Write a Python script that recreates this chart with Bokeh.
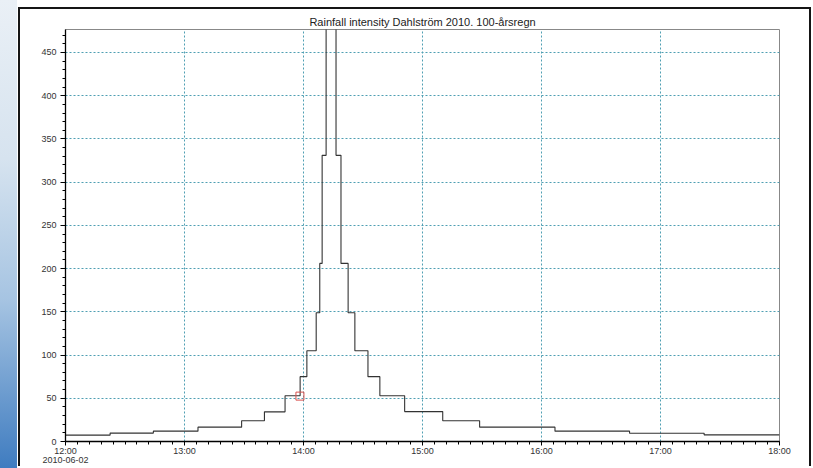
import numpy as np
import pandas as pd
from bokeh.plotting import figure
from bokeh.layouts import row
from bokeh.models import SingleIntervalTicker, DatetimeTickFormatter, Range1d, Div
from bokeh.embed import file_html
from bokeh.resources import INLINE

# ---------------- data ----------------
title_text = "Rainfall intensity Dahlström 2010. 100-årsregn"
date_text = "2010-06-02"
start_time = "2010-06-02 12:00"
end_time = "2010-06-02 18:00"

# start of each block, minutes after 12:00
step_start_min = [0, 22.5, 44.3, 66.8, 88.8, 100.3, 110.7, 118.3, 121.7, 126.4,
                  128.2, 129.4, 131.4, 136.4, 138.9, 142.5, 145.9, 152.5, 158.5,
                  171.0, 190.2, 208.8, 246.8, 284.4, 322.0]
intensity = [7.4, 9.7, 12.0, 16.6, 24.0, 34.3, 53.0, 75.0, 105.0, 149.0,
             206.0, 331.0, 560.0, 331.0, 206.0, 149.0, 105.0, 75.0, 53.0,
             34.6, 24.0, 16.6, 12.0, 9.5, 7.7]
marker_min = [118.2]
marker_val = [52.5]
y_max = 476.6

# ---------------- build ----------------
t0 = pd.Timestamp(start_time)
t1 = pd.Timestamp(end_time)
x_edges = list(t0 + pd.to_timedelta(step_start_min, unit="m")) + [t1]
y_edges = list(intensity) + [intensity[-1]]
mx = list(t0 + pd.to_timedelta(marker_min, unit="m"))
t0_ms = int(t0.value // 1_000_000)

FONT = "Liberation Sans"
H = 468

# decorative gradient strip on the left
strip = Div(text="", width=17, height=H, margin=(0, 1, 0, 0),
            styles={"background": "linear-gradient(to bottom, #eaf0f6 0%, "
                                  "#d6e3ef 34%, #a6c4e2 64%, #3f7cc0 100%)"})

p = figure(width=793, height=H - 9, x_axis_type="datetime",
           x_range=Range1d(t0, t1), y_range=Range1d(0, y_max),
           toolbar_location=None, output_backend="svg",
           min_border_left=45, min_border_right=34, min_border_top=20,
           min_border_bottom=26,
           styles={"margin-top": "7px",
                   "border-left": "2px solid #151515",
                   "border-top": "2px solid #151515",
                   "border-right": "2px solid #151515"})

p.title.text = title_text
p.title.align = "center"
p.title.text_font = FONT
p.title.text_font_size = "11px"
p.title.text_font_style = "normal"
p.title.text_color = "#222222"
p.title.standoff = 3

p.xaxis.ticker = SingleIntervalTicker(interval=3600 * 1000, num_minor_ticks=10)
p.xaxis.formatter = DatetimeTickFormatter(hours="%H:%M", hourmin="%H:%M",
                                          minutes="%H:%M", days="%H:%M")
p.xaxis.major_label_overrides = {t0_ms: "12:00\n" + date_text}
p.yaxis.ticker = SingleIntervalTicker(interval=50, num_minor_ticks=5)

for ax in (p.xaxis, p.yaxis):
    ax.axis_line_color = "#000000"
    ax.axis_line_width = 1.3
    ax.major_tick_line_color = "#000000"
    ax.minor_tick_line_color = "#000000"
    ax.major_tick_in = 0
    ax.minor_tick_in = 0
    ax.major_tick_out = 5
    ax.minor_tick_out = 3
    ax.major_label_text_font = FONT
    ax.major_label_text_font_size = "9px"
    ax.major_label_text_color = "#333333"
p.xaxis.major_tick_out = 4
p.xaxis.major_label_text_line_height = 0.95
p.xaxis.major_label_standoff = 0
p.yaxis.major_label_standoff = 4

p.outline_line_color = "#888888"
p.outline_line_width = 1

for gr in (p.xgrid, p.ygrid):
    gr.grid_line_color = "#4f9fb3"
    gr.grid_line_dash = "2 2"
    gr.grid_line_width = 1

p.step(x_edges, y_edges, mode="after", line_color="#333333", line_width=1.1)
p.scatter(mx, marker_val, marker="square", size=8, fill_color=None,
          line_color="#d9534f", line_width=1)

layout = row(strip, p, spacing=0)
open("out.html", "w").write(file_html(layout, INLINE))
